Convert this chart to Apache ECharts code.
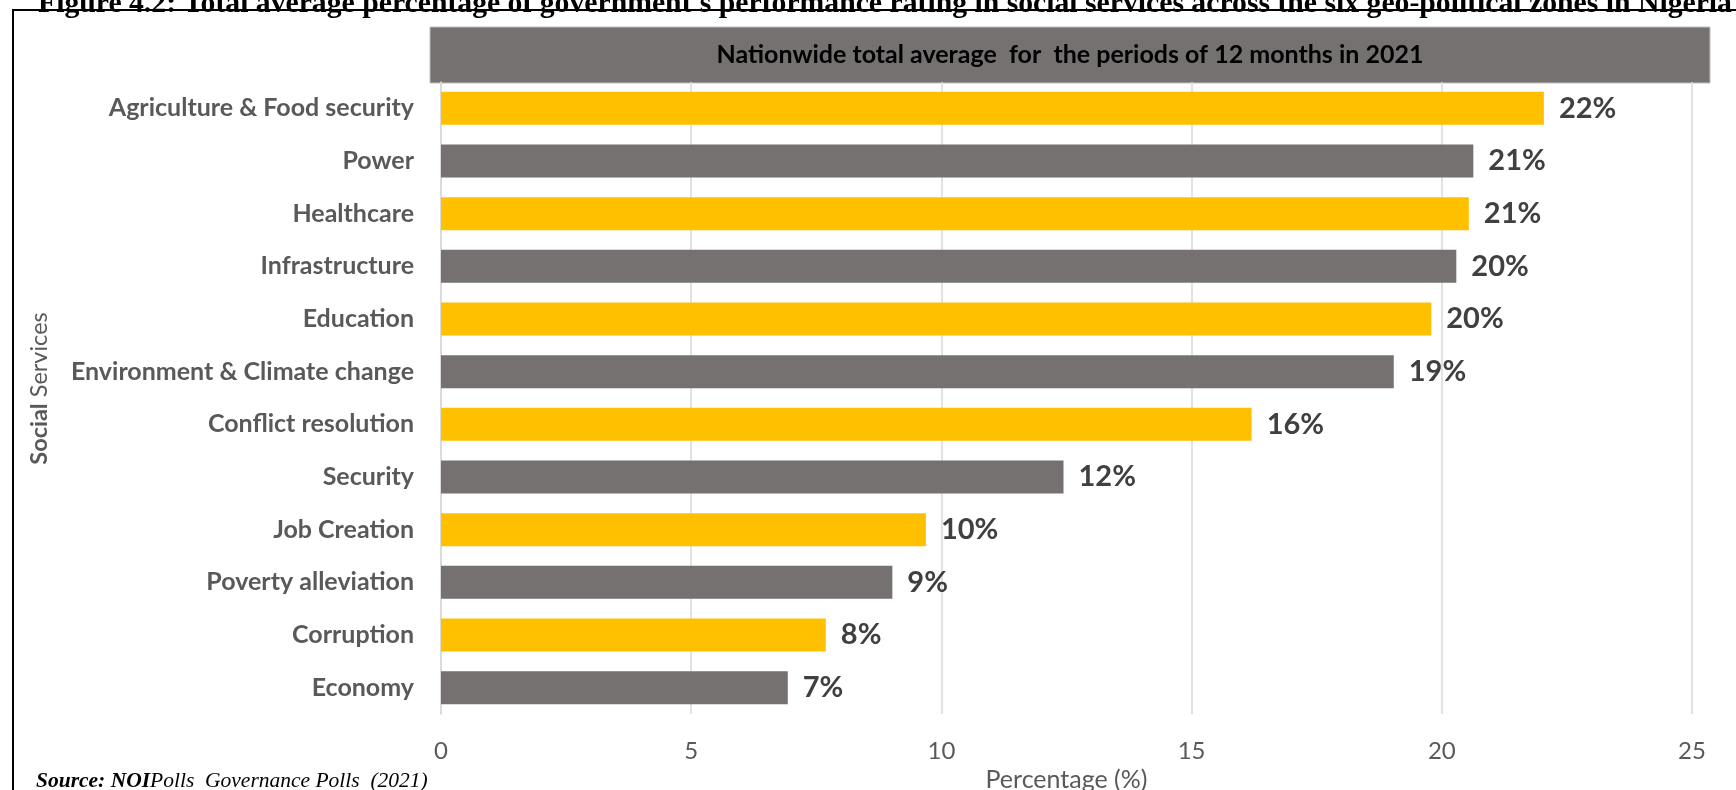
<!DOCTYPE html>
<html>
<head>
<meta charset="utf-8">
<title>Social services rating</title>
<script src="https://cdn.jsdelivr.net/npm/echarts@6/dist/echarts.min.js"></script>
<style>
  html, body { margin: 0; padding: 0; background: #fff; }
  #chart { width: 1736px; height: 790px; }
</style>
</head>
<body>
<div id="chart"></div>
<script>
// categories top to bottom
var services = ['Agriculture & Food security', 'Power', 'Healthcare', 'Infrastructure', 'Education',
  'Environment & Climate change', 'Conflict resolution', 'Security', 'Job Creation',
  'Poverty alleviation', 'Corruption', 'Economy'];
// average rating (%)
var ratings = [22.04, 20.63, 20.54, 20.29, 19.79, 19.04, 16.2, 12.44, 9.69, 9.02, 7.69, 6.93];
var xTicks = [0, 5, 10, 15, 20, 25];
var barColors = ['#FFC000', '#767171'];

var figTitle = "Figure 4.2: Total average percentage of government's performance rating in social services across the six geo-political zones in Nigeria";
var bannerText = 'Nationwide total average  for  the periods of 12 months in 2021';

var font = 'Lato';

var option = {
  animation: false,
  grid: {
    left: 441,
    right: 44,
    top: 82,
    bottom: 76,
    outerBoundsMode: 'none'
  },
  xAxis: {
    type: 'value',
    min: xTicks[0],
    max: xTicks[xTicks.length - 1],
    interval: 5,
    name: 'Percentage (%)',
    nameLocation: 'middle',
    nameGap: 52,
    nameTextStyle: { fontFamily: font, fontSize: 25, color: '#595959' },
    axisLine: { show: false },
    axisTick: { show: false },
    axisLabel: { fontFamily: font, fontSize: 24, color: '#595959', margin: 25 },
    splitLine: { lineStyle: { color: '#d9d9d9', width: 1.5 } }
  },
  yAxis: {
    type: 'category',
    inverse: true,
    data: services,
    name: '{b|Social} Services',
    nameLocation: 'middle',
    nameRotate: 90,
    nameGap: 390,
    nameTextStyle: {
      fontFamily: font, fontSize: 23.5, color: '#595959',
      padding: [0, 0, 0, 19],
      rich: { b: { fontFamily: font, fontSize: 23.5, fontWeight: 'bold', color: '#595959' } }
    },
    axisLine: { show: true, lineStyle: { color: '#d9d9d9', width: 1.5 } },
    axisTick: { show: false },
    axisLabel: { fontFamily: font, fontSize: 25, fontWeight: 'bold', color: '#595959', margin: 27 }
  },
  series: [{
    type: 'bar',
    data: ratings.map(function (v, i) {
      return { value: v, itemStyle: { color: barColors[i % 2] } };
    }),
    barWidth: 33,
    label: {
      show: true,
      position: 'right',
      distance: 15,
      fontFamily: font,
      fontSize: 29,
      fontWeight: 'bold',
      color: '#404040',
      formatter: function (p) { return Math.round(p.value) + '%'; }
    }
  }],
  graphic: [
    // figure caption, clipped at the top of the page
    {
      type: 'text',
      left: 38,
      top: -11,
      scaleX: 0.99,
      style: { text: figTitle, font: 'bold 30px "Liberation Serif"', fill: '#000' }
    },
    // frame
    {
      type: 'rect',
      shape: { x: 13, y: 10, width: 1760, height: 820 },
      style: { fill: 'none', stroke: '#000', lineWidth: 2 }
    },
    // chart title banner
    {
      type: 'rect',
      shape: { x: 430, y: 27, width: 1280, height: 56 },
      style: { fill: '#767171', stroke: '#bfbfbf', lineWidth: 1 }
    },
    {
      type: 'text',
      x: 1070,
      y: 55,
      style: {
        text: bannerText, fontFamily: font, fontSize: 25, fontWeight: 'bold', fill: '#000',
        align: 'center', verticalAlign: 'middle'
      }
    },
    // source note
    {
      type: 'text',
      x: 36,
      y: 781,
      style: {
        text: '{b|Source: NOI}{i|Polls  Governance Polls  (2021)}',
        verticalAlign: 'middle',
        rich: {
          b: { fontFamily: 'Liberation Serif', fontSize: 21.5, fontWeight: 'bold', fontStyle: 'italic', fill: '#000' },
          i: { fontFamily: 'Liberation Serif', fontSize: 21.5, fontStyle: 'italic', fill: '#000' }
        }
      }
    }
  ]
};

var chart = echarts.init(document.getElementById('chart'));
chart.setOption(option);
</script>
</body>
</html>
